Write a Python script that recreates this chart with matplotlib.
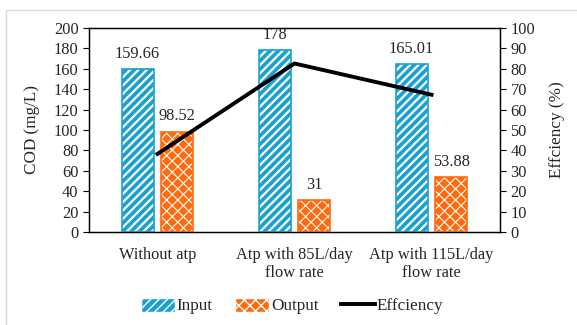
import numpy as np
import matplotlib as mpl
import matplotlib.pyplot as plt
from matplotlib.patches import Rectangle, Patch
from matplotlib.lines import Line2D

plt.rcParams['font.family'] = ['Liberation Serif', 'DejaVu Serif']

# data
categories = ['Without atp', 'Atp with 85L/day\nflow rate', 'Atp with 115L/day\nflow rate']
cod_input = [159.66, 178, 165.01]
cod_output = [98.52, 31, 53.88]
efficiency = [38.3, 82.6, 67.3]
input_labels = ['159.66', '178', '165.01']
output_labels = ['98.52', '31', '53.88']

blue = '#1BA1D0'
orange = '#FF6A0E'
txt = '#262626'
fs = 11.8

fig = plt.figure(figsize=(5.77, 3.25), dpi=100)
fig.patches.append(Rectangle((6/577, -0.1), 1.2, 1 - 10/325 + 0.1, transform=fig.transFigure,
                             fill=False, edgecolor='#d9d9d9', linewidth=1))
ax = fig.add_axes([89/577, 1 - 232/325, 411/577, 204/325])

x = np.arange(len(categories))
w = 0.235
off = 0.145

# bars: hatch drawn in white, outline drawn on top
with mpl.rc_context({'hatch.linewidth': 1.6}):
    ax.bar(x - off, cod_input, w, color=blue, edgecolor='white', hatch='////', linewidth=0, zorder=2)
with mpl.rc_context({'hatch.linewidth': 0.8}):
    ax.bar(x + off, cod_output, w, color=orange, edgecolor='white', hatch='xxx', linewidth=0, zorder=2)
ax.bar(x - off, cod_input, w, fill=False, edgecolor=blue, linewidth=1.2, zorder=3)
ax.bar(x + off, cod_output, w, fill=False, edgecolor=orange, linewidth=1.2, zorder=3)

for i in range(len(categories)):
    ax.text(x[i] - off, cod_input[i] + 7, input_labels[i], ha='center', va='bottom',
            fontsize=fs, color=txt, clip_on=False)
    ax.text(x[i] + off, cod_output[i] + 7, output_labels[i], ha='center', va='bottom',
            fontsize=fs, color=txt, clip_on=False)

ax.set_xlim(-0.5, 2.5)
ax.set_ylim(0, 200)
ax.set_yticks(np.arange(0, 201, 20))
ax.set_xticks(x)
ax.set_xticklabels(categories, fontsize=fs, color=txt, linespacing=1.15)
ax.tick_params(axis='x', length=0, pad=11)
ax.tick_params(axis='y', labelsize=fs, labelcolor=txt, length=4, direction='out')
ax.set_ylabel('COD (mg/L)', fontsize=fs + 0.5, color=txt, labelpad=10)
for s in ax.spines.values():
    s.set_color('black')
    s.set_linewidth(1)

ax2 = ax.twinx()
ax2.plot(x, efficiency, color='black', linewidth=2.8, zorder=4)
ax2.set_ylim(0, 100)
ax2.set_yticks(np.arange(0, 101, 10))
ax2.tick_params(axis='y', labelsize=fs, labelcolor=txt, length=4, direction='out')
ax2.set_ylabel('Effciency (%)', fontsize=fs + 0.5, color=txt, labelpad=10)

# legend
with mpl.rc_context({'hatch.linewidth': 1.6}):
    h_in = Patch(facecolor=blue, edgecolor='white', hatch='////')
with mpl.rc_context({'hatch.linewidth': 0.8}):
    h_out = Patch(facecolor=orange, edgecolor='white', hatch='xxx')
handles = [h_in, h_out, Line2D([0], [0], color='black', linewidth=2.8)]
fig.legend(handles, ['Input', 'Output', 'Effciency'], loc='center', bbox_to_anchor=(292/577, 1 - 306/325),
           ncol=3, frameon=False, fontsize=fs + 0.5, handlelength=2.0, handleheight=0.9,
           handletextpad=0.1, columnspacing=1.3, labelcolor=txt)

fig.savefig('out.png', dpi=100)
